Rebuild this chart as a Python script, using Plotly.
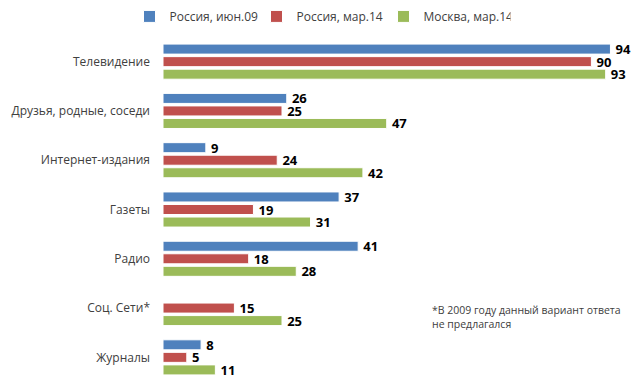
import plotly.graph_objects as go

categories = ["Телевидение", "Друзья, родные, соседи", "Интернет-издания", "Газеты", "Радио", "Соц. Сети*", "Журналы"]
series_names = ["Россия, июн.09", "Россия, мар.14", "Москва, мар.14"]
russia_2009 = [94, 26, 9, 37, 41, None, 8]
russia_2014 = [90, 25, 24, 19, 18, 15, 5]
moscow_2014 = [93, 47, 42, 31, 28, 25, 11]
colors = ["#4F81BD", "#C0504D", "#9BBB59"]
footnote = "*В 2009 году данный вариант ответа<br>не предлагался"

fig = go.Figure()
for name, vals, col in zip(series_names, [russia_2009, russia_2014, moscow_2014], colors):
    fig.add_trace(go.Bar(
        y=categories, x=vals, name=name, orientation="h",
        marker=dict(color=col, line=dict(color="white", width=1)),
        text=[("" if v is None else "\u2009" + str(v)) for v in vals],
        textposition="outside", cliponaxis=False, constraintext="none",
        textfont=dict(family="Open Sans", size=13, color="black", weight="bold"),
    ))

fig.update_layout(
    width=640, height=382,
    margin=dict(l=163, r=1, t=37, b=0, autoexpand=False),
    plot_bgcolor="white", paper_bgcolor="white",
    barmode="group", bargap=0.237, bargroupgap=0.2,
    font=dict(family="Open Sans", size=12, color="#404040"),
    showlegend=True,
    legend=dict(orientation="h", x=0.5, xanchor="center", xref="container",
                y=0.995, yanchor="top", yref="container",
                font=dict(size=12, color="#404040"),
                entrywidth=82, entrywidthmode="pixels", traceorder="normal"),
    xaxis=dict(range=[0, 100], visible=False, fixedrange=True),
    yaxis=dict(autorange="reversed", showline=False, showgrid=False, ticks="",
               automargin=False,
               ticklabelstandoff=12, tickfont=dict(size=12, color="#404040")),
    annotations=[dict(text=footnote, xref="paper", yref="paper", x=(430-163)/476, y=(382-301)/345,
                      xanchor="left", yanchor="top", showarrow=False, align="left",
                      font=dict(size=10.5, color="#404040"))],
)
fig.write_html("out.html", config={"displayModeBar": False},
               post_script="document.body.style.margin='0';")
